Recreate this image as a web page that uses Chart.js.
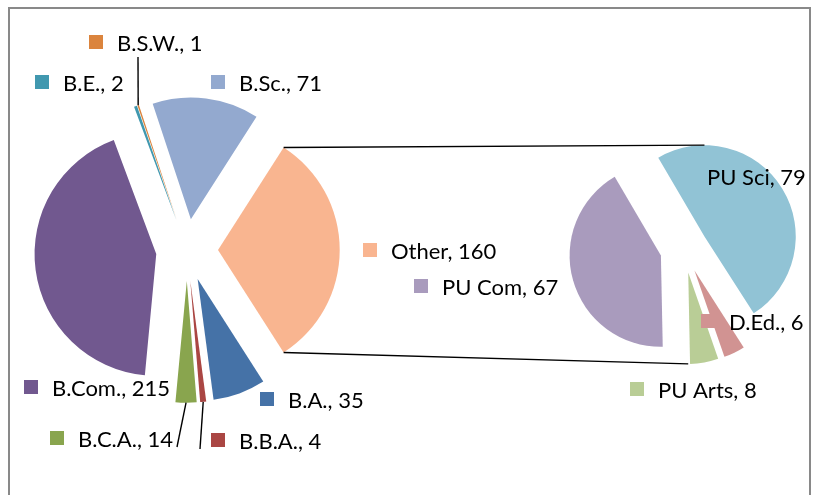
<!DOCTYPE html>
<html><head><meta charset="utf-8">
<script src="https://cdn.jsdelivr.net/npm/chart.js@4/dist/chart.umd.min.js"></script>
<style>
html,body{margin:0;padding:0;background:#fff;}
#wrap{position:relative;width:813px;height:495px;overflow:hidden;background:#fff;}
#frame{position:absolute;left:8px;top:7px;width:803px;height:530px;border:2px solid #898989;box-sizing:border-box;}
canvas{position:absolute;left:0;top:0;}
</style></head><body>
<div id="wrap"><div id="frame"></div>
<canvas id="c1" width="813" height="495"></canvas>
<canvas id="c2" width="813" height="495"></canvas></div>
<script>
// ---- data ----
const mainCategories = ['Other', 'B.A.', 'B.B.A.', 'B.C.A.', 'B.Com.', 'B.E.', 'B.S.W.', 'B.Sc.'];
const mainValues = [160, 35, 4, 14, 215, 2, 1, 71];
const subCategories = ['PU Sci', 'D.Ed.', 'PU Arts', 'PU Com'];
const subValues = [79, 6, 8, 67];

// ---- styles ----
const mainColors = ['#F9B590', '#4572A7', '#AA4643', '#89A54E', '#71588F', '#4198AF', '#DB843D', '#93A9CF'];
const subColors = ['#91C3D5', '#D19392', '#B9CD96', '#A99BBD'];
const LABEL_FONT = '22px Lato';
const MAIN_R = 121.7, MAIN_EXPLODE = 31;
const SUB_R = 91.3, SUB_EXPLODE = 24;

// label anchors: [text left x, baseline y]
const mainLabelPos = {
  'Other': [391, 259], 'B.A.': [288, 408], 'B.B.A.': [239, 449], 'B.C.A.': [78, 447],
  'B.Com.': [52, 396], 'B.E.': [63, 91], 'B.S.W.': [117, 51], 'B.Sc.': [239, 91]
};
const mainLeaders = { 'B.S.W.': [138, 57], 'B.C.A.': [177, 447], 'B.B.A.': [200, 449] };
const subLabelPos = { 'PU Sci': [707, 185], 'D.Ed.': [729, 330], 'PU Arts': [658, 398], 'PU Com': [442, 295] };

// explode every slice outward along its mid angle (like Excel's pie explosion)
function makeExplode(d) {
  return {
    id: 'explode',
    afterDatasetUpdate(chart, args) {
      chart.getDatasetMeta(args.index).data.forEach(arc => {
        const mid = (arc.startAngle + arc.endAngle) / 2;
        arc.x += Math.cos(mid) * d;
        arc.y += Math.sin(mid) * d;
      });
    }
  };
}
function arcPoint(arc, ang) {
  return [arc.x + Math.cos(ang) * arc.outerRadius, arc.y + Math.sin(ang) * arc.outerRadius];
}
function drawLabel(ctx, text, color, x, y) {
  ctx.fillStyle = color;
  ctx.fillRect(x - 28, y - 16, 14, 14);
  ctx.fillStyle = '#000';
  ctx.font = LABEL_FONT;
  ctx.textBaseline = 'alphabetic';
  ctx.textAlign = 'left';
  ctx.fillText(text, x, y);
}

const mainTotal = mainValues.reduce((a, b) => a + b, 0);

const mainLabelsPlugin = {
  id: 'mainLabels',
  afterDraw(chart) {
    const ctx = chart.ctx;
    const arcs = chart.getDatasetMeta(0).data;
    ctx.save();
    ctx.strokeStyle = '#000';
    ctx.lineWidth = 1.4;
    mainCategories.forEach((c, i) => {
      if (mainLeaders[c]) {
        const a = arcs[i];
        const p = arcPoint(a, (a.startAngle + a.endAngle) / 2);
        ctx.beginPath();
        ctx.moveTo(p[0], p[1]);
        ctx.lineTo(mainLeaders[c][0], mainLeaders[c][1]);
        ctx.stroke();
      }
    });
    mainCategories.forEach((c, i) => {
      const [x, y] = mainLabelPos[c];
      drawLabel(ctx, c + ', ' + mainValues[i], mainColors[i], x, y);
    });
    ctx.restore();
  }
};

const chart1 = new Chart(document.getElementById('c1'), {
  type: 'pie',
  data: {
    labels: mainCategories,
    datasets: [{
      data: mainValues,
      backgroundColor: mainColors,
      borderWidth: 0,
      offset: 0,
      hoverOffset: 0
    }]
  },
  options: {
    responsive: false,
    animation: false,
    events: [],
    radius: MAIN_R,
    rotation: 90 - (mainValues[0] / mainTotal) * 180,
    layout: { padding: { left: 0, right: 439, top: 5, bottom: 0 } },
    plugins: { legend: { display: false }, tooltip: { enabled: false } }
  },
  plugins: [makeExplode(MAIN_EXPLODE), mainLabelsPlugin]
});

const subLabelsPlugin = {
  id: 'subLabels',
  afterDraw(chart) {
    const ctx = chart.ctx;
    const arcs = chart.getDatasetMeta(0).data;
    const other = chart1.getDatasetMeta(0).data[0];
    const t1 = arcPoint(other, other.startAngle), b1 = arcPoint(other, other.endAngle);
    const t2 = arcPoint(arcs[0], -Math.PI / 2);
    const b2 = arcPoint(arcs[2], Math.PI / 2);
    ctx.save();
    ctx.strokeStyle = '#000';
    ctx.lineWidth = 1.4;
    ctx.beginPath();
    ctx.moveTo(t1[0], t1[1]); ctx.lineTo(t2[0], t2[1]);
    ctx.moveTo(b1[0], b1[1]); ctx.lineTo(b2[0], b2[1]);
    ctx.stroke();
    subCategories.forEach((c, i) => {
      const [x, y] = subLabelPos[c];
      drawLabel(ctx, c + ', ' + subValues[i], subColors[i], x, y);
    });
    ctx.restore();
  }
};

new Chart(document.getElementById('c2'), {
  type: 'pie',
  data: {
    labels: subCategories,
    datasets: [{
      data: subValues,
      backgroundColor: subColors,
      borderWidth: 0,
      offset: 0,
      hoverOffset: 0
    }]
  },
  options: {
    responsive: false,
    animation: false,
    events: [],
    radius: SUB_R,
    rotation: -30.4,
    layout: { padding: { left: 555, right: 0, top: 3, bottom: 0 } },
    plugins: { legend: { display: false }, tooltip: { enabled: false } }
  },
  plugins: [makeExplode(SUB_EXPLODE), subLabelsPlugin]
});
</script>
</body></html>
